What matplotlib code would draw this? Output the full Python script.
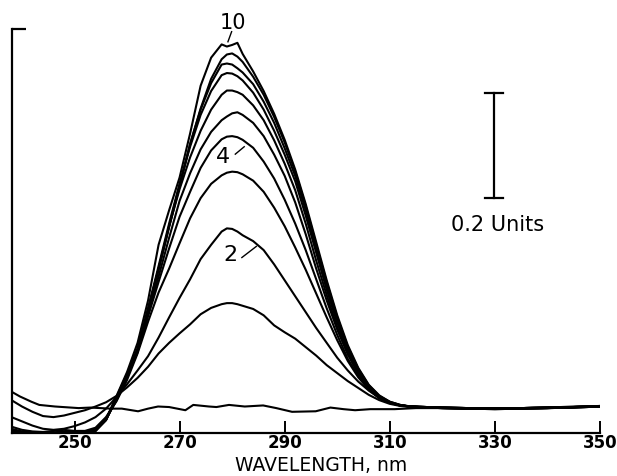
import matplotlib.pyplot as plt

# wavelength grid (nm) shared by the time-course spectra
wl = [238, 240, 242, 244, 246, 248, 250, 252, 254, 256, 258, 260, 262, 264, 266, 268, 270, 272, 274, 276, 278,
      279, 280, 281,
      282, 284, 286, 288, 290, 292, 294, 296, 298, 300, 302, 304, 306, 308, 310, 312, 314,
      317, 320, 325, 330, 335, 340, 345, 350]

# flat starting spectrum
wl_0 = [238, 239.6, 241.8, 243.3, 246.3, 250.8, 253, 256.9, 259, 262.1, 264, 265.9, 268, 271.1, 272.6, 275.6,
        277, 279.4, 282.4, 285.9, 288.4, 291.4, 295.9, 298.7, 301.2, 303.4, 306.3, 310.9, 315, 320, 325, 330,
        335, 340, 345, 350]
abs_0 = [0.078, 0.069, 0.059, 0.053, 0.050, 0.047, 0.048, 0.046, 0.046, 0.041, 0.046, 0.050, 0.049, 0.043, 0.053,
         0.050, 0.049, 0.053, 0.050, 0.052, 0.047, 0.040, 0.041, 0.048, 0.045, 0.043, 0.045, 0.045, 0.047, 0.047,
         0.046, 0.046, 0.047, 0.048, 0.049, 0.050]

abs_1 = [.062, .050, .040, .032, .030, .033, .038, .043, .050, .058, .070, .086, .104, .125, .150, .170, .188, .205, .224, .236, .243,
         .245, .245, .243,
         .240, .234, .222, .203, .190, .178, .162, .146, .128, .113, .098, .085, .072, .062, .055, .051, .049,
         .048, .048, .047, .046, .047, .048, .049, .050]
abs_2 = [.030, .022, .014, .008, .006, .008, .013, .020, .030, .046, .068, .092, .118, .145, .180, .218, .255, .290, .328, .355, .380,
         .386, .385, .380,
         .373, .362, .345, .318, .288, .258, .228, .198, .170, .142, .118, .097, .080, .066, .057, .052, .050,
         .049, .048, .047, .047, .047, .048, .049, .050]
abs_3 = [.012, .006, .003, .002, .004, .006, .004, .004, .010, .030, .060, .100, .150, .210, .265, .310, .358, .405, .443, .470, .486,
         .491, .493, .492,
         .488, .476, .455, .425, .390, .350, .308, .263, .218, .175, .136, .105, .082, .066, .057, .052, .050,
         .049, .048, .046, .046, .046, .047, .048, .050]
abs_4 = [.008, .003, .001, .000, .001, .003, .002, .002, .008, .028, .062, .105, .155, .220, .285, .348, .408, .455, .500, .533, .554,
         .559, .560, .558,
         .553, .538, .512, .480, .440, .395, .345, .290, .235, .185, .140, .108, .083, .066, .057, .052, .050,
         .048, .047, .046, .045, .046, .047, .049, .051]
abs_5 = [.005, .002, .000, .000, .000, .001, .001, .002, .006, .026, .062, .105, .155, .225, .295, .368, .438, .490, .535, .568, .590,
         .597, .603, .605,
         .600, .585, .560, .525, .485, .435, .375, .310, .250, .195, .148, .112, .085, .067, .057, .052, .050,
         .049, .048, .047, .046, .046, .047, .048, .050]
abs_6 = [.004, .001, .000, .000, .000, .000, .001, .001, .005, .025, .065, .110, .160, .235, .310, .390, .460, .520, .570, .610, .638,
         .646, .646, .643,
         .638, .618, .590, .552, .508, .458, .395, .325, .260, .200, .152, .114, .086, .068, .058, .052, .050,
         .048, .047, .046, .046, .047, .048, .049, .051]
abs_7 = [.003, .000, .000, .000, .000, .000, .000, .001, .005, .025, .068, .112, .158, .235, .315, .395, .470, .540, .600, .645, .675,
         .679, .678, .673,
         .665, .642, .610, .570, .525, .475, .410, .340, .270, .208, .157, .117, .088, .069, .058, .052, .050,
         .049, .048, .047, .047, .047, .048, .049, .050]
abs_8 = [.003, .000, .000, .000, .000, .000, .000, .001, .004, .024, .066, .110, .155, .230, .310, .390, .468, .545, .610, .660, .695,
         .697, .695, .688,
         .680, .658, .625, .585, .537, .485, .420, .348, .278, .213, .160, .119, .089, .069, .058, .052, .050,
         .048, .047, .046, .045, .046, .047, .048, .050]
abs_9 = [.002, .000, .000, .000, .000, .000, .000, .001, .004, .025, .068, .108, .152, .228, .308, .388, .465, .545, .612, .668, .705,
         .714, .716, .710,
         .700, .672, .638, .596, .548, .493, .428, .355, .284, .218, .163, .121, .090, .070, .059, .053, .050,
         .049, .048, .047, .046, .047, .048, .050, .051]
abs_10 = [.002, .000, .000, .000, .000, .000, .000, .001, .004, .026, .070, .115, .170, .250, .355, .420, .482, .565, .655, .708, .733,
          .729, .732, .736,
          .715, .682, .645, .602, .553, .497, .432, .360, .288, .222, .166, .123, .091, .071, .059, .053, .050,
          .048, .047, .046, .046, .046, .047, .049, .050]

spectra = [abs_1, abs_2, abs_3, abs_4, abs_5, abs_6, abs_7, abs_8, abs_9, abs_10]
xticks = [250, 270, 290, 310, 330, 350]

fig = plt.figure(figsize=(6.17, 4.76), dpi=100)
ax = fig.add_axes([0.0194, 0.0903, 0.9530, 0.8487])

ax.plot(wl_0, abs_0, color='black', lw=1.5)
for a in spectra:
    ax.plot(wl, a, color='black', lw=1.5)

ax.set_xlim(238.1, 350)
ax.set_ylim(0, 0.762)
for s in ['top', 'right']:
    ax.spines[s].set_visible(False)
for s in ['left', 'bottom']:
    ax.spines[s].set_linewidth(1.6)

ax.set_xticks(xticks)
ax.set_xticklabels([str(t) for t in xticks], fontsize=12, fontweight='bold')
ax.tick_params(axis='x', direction='in', length=9, width=1.4, pad=1)
ax.set_yticks([0.762])
ax.tick_params(axis='y', direction='in', length=10, width=1.6, labelleft=False)
ax.set_xlabel('WAVELENGTH, nm', fontsize=13.5)
ax.xaxis.set_label_coords(0.526, -0.058)

# curve labels
ax.text(280.2, 0.774, '10', fontsize=15, ha='center', va='center', clip_on=False)
ax.plot([279.9, 279.2], [0.757, 0.738], color='black', lw=1)
ax.text(278.3, 0.521, '4', fontsize=16, ha='center', va='center')
ax.plot([280.6, 282.3], [0.526, 0.540], color='black', lw=1)
ax.text(279.6, 0.336, '2', fontsize=16, ha='center', va='center')
ax.plot([281.85, 284.6], [0.331, 0.352], color='black', lw=1)

# scale bar
ax.plot([329.8, 329.8], [0.443, 0.641], color='black', lw=1.6)
ax.plot([328.1, 331.5], [0.641, 0.641], color='black', lw=1.6)
ax.plot([328.1, 331.5], [0.443, 0.443], color='black', lw=1.6)
ax.text(330.6, 0.393, '0.2 Units', fontsize=15, ha='center', va='center')

plt.savefig('out.png', dpi=100)
